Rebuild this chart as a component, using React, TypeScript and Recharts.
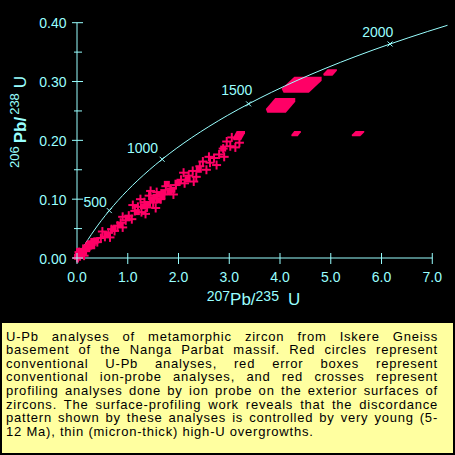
import React from 'react';
import { ComposedChart, XAxis, YAxis, Line, Scatter, ReferenceLine, ReferenceArea } from 'recharts';

const CYAN = '#99ffff';
const RED = '#ff0066';
const FONT = '"Liberation Sans", Arial, Helvetica, sans-serif';

// Concordia curve points (207Pb/235U, 206Pb/238U)
const concordiaX = [0, 0.1035, 0.2177, 0.3438, 0.4828, 0.6363, 0.8056, 0.9925, 1.1987, 1.4263, 1.6774, 1.9545, 2.2603, 2.5977, 2.9701, 3.381, 3.8344, 4.3348, 4.8869, 5.4962, 6.1685, 6.9105, 7.3];
const concordiaY = [0, 0.0156, 0.0315, 0.0476, 0.064, 0.0806, 0.0975, 0.1147, 0.1321, 0.1498, 0.1678, 0.1861, 0.2046, 0.2234, 0.2426, 0.262, 0.2817, 0.3018, 0.3221, 0.3428, 0.3638, 0.3851, 0.3956];

// Age marks on the concordia (Ma)
const ageLabels = ['500', '1000', '1500', '2000'];
const ageX = [0.6363, 1.6774, 3.381, 6.1685];
const ageY = [0.0806, 0.1678, 0.262, 0.3638];

// Surface-profiling ion-probe analyses (crosses)
const crossX = [0.0, 0.02, 0.06, 0.1, 0.14, 0.04, 0.18, 0.22, 0.28, 0.33, 0.4, 0.47, 0.5, 0.55, 0.62, 0.65, 0.68, 0.74, 0.8, 0.86, 0.9, 0.9, 0.96, 1.02, 1.08, 1.1, 1.14, 1.2, 1.25, 1.27, 1.33, 1.35, 1.38, 1.42, 1.45, 1.5, 1.55, 1.57, 1.65, 1.72, 1.75, 1.85, 1.9, 1.95, 2.05, 2.1, 2.12, 2.2, 2.28, 2.3, 2.35, 2.42, 2.48, 2.55, 2.6, 2.62, 2.7, 2.75, 2.8, 2.88, 2.9, 2.95, 3.02, 3.05, 3.12, 3.2];
const crossY = [0.0, 0.0, 0.003, 0.006, 0.004, 0.01, 0.014, 0.018, 0.022, 0.026, 0.027, 0.034, 0.045, 0.036, 0.043, 0.035, 0.049, 0.046, 0.055, 0.06, 0.052, 0.07, 0.064, 0.072, 0.066, 0.09, 0.08, 0.087, 0.1, 0.078, 0.095, 0.075, 0.086, 0.106, 0.114, 0.094, 0.085, 0.112, 0.1, 0.108, 0.122, 0.118, 0.108, 0.124, 0.133, 0.145, 0.127, 0.14, 0.148, 0.13, 0.138, 0.156, 0.164, 0.15, 0.172, 0.162, 0.17, 0.158, 0.176, 0.186, 0.172, 0.198, 0.19, 0.205, 0.188, 0.196];

// Conventional U-Pb analyses (filled marks)
const dotX = [0.0, 0.02, 0.04, 0.05, 0.08, 0.1, 0.13, 0.16, 0.2, 0.22, 0.25, 0.28, 0.3, 0.32, 0.35, 0.38, 0.58, 0.72, 0.85, 1.0, 1.18, 1.3, 1.4, 1.48, 1.55, 1.6, 1.62, 1.68, 1.7, 1.77, 1.82, 1.88, 1.98, 2.18, 2.4, 2.88];
const dotY = [0.002, 0.004, 0.012, 0.006, 0.004, 0.012, 0.009, 0.018, 0.015, 0.022, 0.025, 0.024, 0.02, 0.029, 0.028, 0.03, 0.04, 0.05, 0.056, 0.068, 0.078, 0.088, 0.092, 0.1, 0.104, 0.098, 0.108, 0.104, 0.112, 0.126, 0.112, 0.116, 0.128, 0.134, 0.15, 0.186];

// Conventional ion-probe error boxes
const boxX1 = [4.03, 3.72, 4.85, 3.07, 4.22, 5.41];
const boxX2 = [4.82, 4.3, 5.12, 3.31, 4.41, 5.66];
const boxY1 = [0.281, 0.247, 0.31, 0.2, 0.207, 0.207];
const boxY2 = [0.308, 0.272, 0.321, 0.216, 0.216, 0.216];

const xTicks = [0, 1, 2, 3, 4, 5, 6, 7];
const yTicks = [0, 0.05, 0.1, 0.15, 0.2, 0.25, 0.3, 0.35, 0.4];

const captionLines = [
  'U-Pb analyses of metamorphic zircon from Iskere Gneiss',
  'basement of the Nanga Parbat massif. Red circles represent',
  'conventional U-Pb analyses, red error boxes represent',
  'conventional ion-probe analyses, and red crosses represent',
  'profiling analyses done by ion probe on the exterior surfaces of',
  'zircons. The surface-profiling work reveals that the discordance',
  'pattern shown by these analyses is controlled by very young (5-',
  '12 Ma), thin (micron-thick) high-U overgrowths.',
];

const concordia = concordiaX.map((x, i) => ({ x, y: concordiaY[i] }));
const ages = ageX.map((x, i) => ({ x, y: ageY[i], label: ageLabels[i] }));
const crosses = crossX.map((x, i) => ({ x, y: crossY[i] }));
const dots = dotX.map((x, i) => ({ x, y: dotY[i] }));
const boxes = boxX1.map((x1, i) => ({ x1, x2: boxX2[i], y1: boxY1[i], y2: boxY2[i] }));

const labelStyle: Record<string, { dx: number; dy: number }> = {
  '500': { dx: -2.5, dy: -4 },
  '1000': { dx: -4, dy: -6.3 },
  '1500': { dx: 3.7, dy: -8.6 },
  '2000': { dx: 3.3, dy: -6.6 },
};

const XTick = (props: any) => {
  const { x, y, payload } = props;
  return (
    <g>
      <line x1={x} x2={x} y1={y - 5} y2={y + 6} stroke={CYAN} strokeWidth={1} />
      <text x={x} y={y + 24} textAnchor="middle" fill={CYAN} fontSize={14} fontFamily={FONT}>
        {Number(payload.value).toFixed(1)}
      </text>
    </g>
  );
};

const YTick = (props: any) => {
  const { x, y, payload } = props;
  const v = Number(payload.value);
  const major = Math.abs(v * 10 - Math.round(v * 10)) < 1e-6;
  return (
    <g>
      <line x1={major ? x - 5 : x - 3} x2={major ? x + 6 : x + 5} y1={y} y2={y} stroke={CYAN} strokeWidth={1} />
      {major && (
        <text x={x - 10.5} y={y + 5.5} textAnchor="end" fill={CYAN} fontSize={14} fontFamily={FONT}>
          {v.toFixed(2)}
        </text>
      )}
    </g>
  );
};

const CrossShape = (props: any) => {
  const { cx, cy } = props;
  if (cx == null || cy == null) return <g />;
  return (
    <g>
      <line x1={cx - 4.5} x2={cx + 4.5} y1={cy} y2={cy} stroke={RED} strokeWidth={2} />
      <line x1={cx} x2={cx} y1={cy - 4.5} y2={cy + 4.5} stroke={RED} strokeWidth={2} />
    </g>
  );
};

const DotShape = (props: any) => {
  const { cx, cy } = props;
  if (cx == null || cy == null) return <g />;
  return <rect x={cx - 3} y={cy - 3} width={6} height={6} fill={RED} />;
};

const AgeShape = (props: any) => {
  const { cx, cy, payload } = props;
  if (cx == null || cy == null) return <g />;
  const st = labelStyle[payload.label] || { dx: 0, dy: 0 };
  return (
    <g>
      <line x1={cx - 2.5} x2={cx + 2.5} y1={cy - 2.5} y2={cy + 2.5} stroke={CYAN} strokeWidth={1} />
      <line x1={cx - 2.5} x2={cx + 2.5} y1={cy + 2.5} y2={cy - 2.5} stroke={CYAN} strokeWidth={1} />
      <text x={cx + st.dx} y={cy + st.dy} textAnchor="end" fill={CYAN} fontSize={14} fontFamily={FONT}>
        {payload.label}
      </text>
    </g>
  );
};

const BoxShape = (props: any) => {
  const { x, y, width, height } = props;
  const s = 0.32;
  const pts = [
    [x + s * width, y],
    [x + width, y],
    [x + width, y + 0.25 * height],
    [x + (1 - s) * width, y + height],
    [x + 0.05 * width, y + height],
    [x, y + 0.75 * height],
  ]
    .map((p) => p.join(','))
    .join(' ');
  return <polygon points={pts} fill={RED} stroke="none" />;
};

export default function App() {
  return (
    <div style={{ position: 'absolute', left: 0, top: 0, width: 455, height: 455, background: '#000', overflow: 'hidden' }}>
      <div style={{ position: 'absolute', left: 0, top: 0 }}>
        <ComposedChart width={455} height={320} margin={{ top: 22.7, right: 7.5, bottom: 22, left: 37 }}>
          <XAxis
            type="number"
            dataKey="x"
            domain={[0, 7.3]}
            ticks={xTicks}
            interval={0}
            height={40}
            axisLine={false}
            tickLine={false}
            tickSize={0}
            tickMargin={0}
            tick={<XTick />}
          />
          <YAxis
            type="number"
            dataKey="y"
            domain={[0, 0.4]}
            ticks={yTicks}
            interval={0}
            width={40}
            axisLine={false}
            tickLine={false}
            tickSize={0}
            tickMargin={0}
            tick={<YTick />}
          />
          <ReferenceLine segment={[{ x: 0, y: 0 }, { x: 7, y: 0 }]} stroke={CYAN} strokeWidth={1} ifOverflow="visible" />
          <ReferenceLine segment={[{ x: 0, y: 0 }, { x: 0, y: 0.4 }]} stroke={CYAN} strokeWidth={1} ifOverflow="visible" />
          <Line data={concordia} dataKey="y" type="monotone" stroke={CYAN} strokeWidth={1} dot={false} isAnimationActive={false} />
          {boxes.map((b, i) => (
            <ReferenceArea key={i} x1={b.x1} x2={b.x2} y1={b.y1} y2={b.y2} shape={BoxShape} ifOverflow="visible" />
          ))}
          <Scatter data={crosses} shape={CrossShape} isAnimationActive={false} />
          <Scatter data={dots} shape={DotShape} isAnimationActive={false} />
          <Scatter data={ages} shape={AgeShape} isAnimationActive={false} />
        </ComposedChart>
      </div>
      <svg width={455} height={320} style={{ position: 'absolute', left: 0, top: 0, pointerEvents: 'none' }}>
        <text transform="translate(25.5,168) rotate(-90)" fill={CYAN} fontFamily={FONT}>
          <tspan fontSize={13} dy={-7}>206</tspan>
          <tspan fontSize={17} fontWeight="bold" dy={7} dx={3}>Pb/</tspan>
          <tspan fontSize={13} dy={-7} dx={2}>238</tspan>
          <tspan fontSize={17} dy={7} dx={5}>U</tspan>
        </text>
        <text x={206.7} y={305} fill={CYAN} fontFamily={FONT}>
          <tspan fontSize={14} dy={-4}>207</tspan>
          <tspan fontSize={17} dy={4}>Pb/</tspan>
          <tspan fontSize={14} dy={-4}>235</tspan>
          <tspan fontSize={17} dy={4} dx={9}>U</tspan>
        </text>
      </svg>
      <div style={{ position: 'absolute', left: 2, top: 323, width: 451, height: 130, background: '#ffffa0' }}>
        {captionLines.map((line, i) => (
          <div
            key={i}
            style={{
              position: 'absolute',
              left: 4,
              top: 6.5 + i * 13.6,
              width: 432,
              height: 13.6,
              lineHeight: '13.6px',
              fontSize: 13,
              letterSpacing: '0.78px',
              fontFamily: FONT,
              color: '#000',
              textAlign: 'justify',
              textAlignLast: i === captionLines.length - 1 ? 'left' : 'justify',
            }}
          >
            {line}
          </div>
        ))}
      </div>
    </div>
  );
}
